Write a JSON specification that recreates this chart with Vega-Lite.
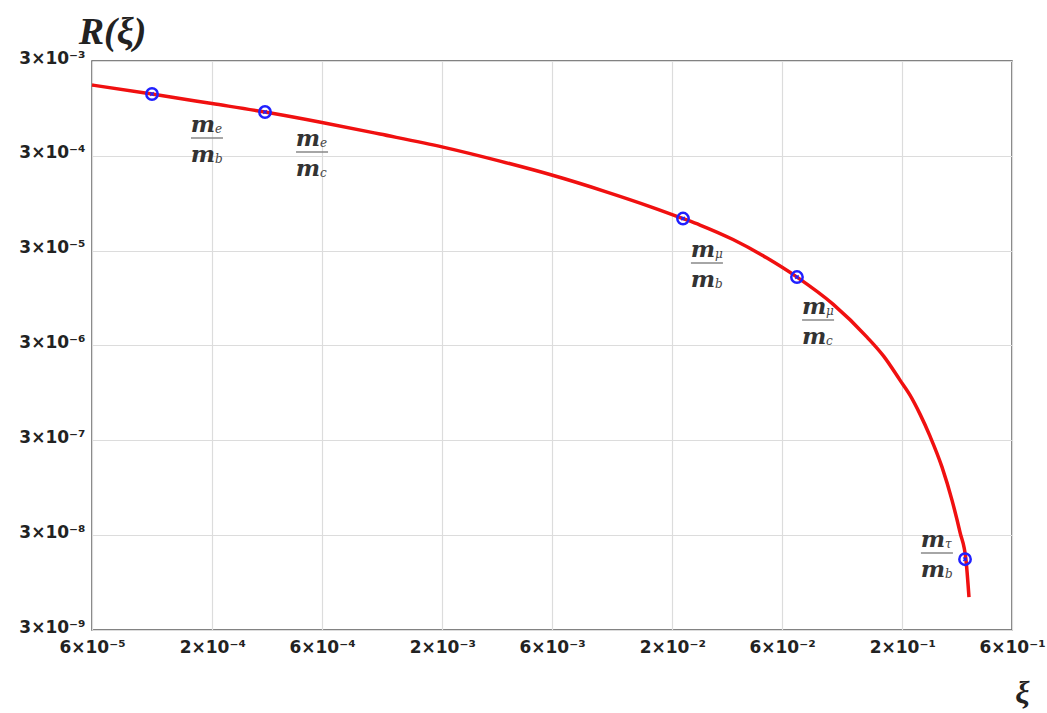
{
  "$schema": "https://vega.github.io/schema/vega-lite/v6.json",
  "width": 920,
  "height": 569,
  "autosize": "none",
  "padding": {"left": 92, "top": 61, "right": 35, "bottom": 83},
  "background": "white",
  "config": {
    "view": {"stroke": "#5a5a5a", "strokeWidth": 1.5},
    "axis": {
      "grid": true,
      "gridColor": "#dcdcdc",
      "gridWidth": 1.2,
      "domain": false,
      "ticks": false,
      "labelFont": "DejaVu Sans",
      "labelFontWeight": "bold",
      "labelFontSize": 17,
      "labelColor": "#222222"
    }
  },
  "datasets": {
    "curve": [
      {"xi": 6e-5, "R": 1.674e-3},
      {"xi": 1.094e-4, "R": 1.346e-3},
      {"xi": 1.995e-4, "R": 1.068e-3},
      {"xi": 3.391e-4, "R": 8.69e-4},
      {"xi": 6.0e-4, "R": 6.74e-4},
      {"xi": 1.072e-3, "R": 5.09e-4},
      {"xi": 2.015e-3, "R": 3.71e-4},
      {"xi": 3.564e-3, "R": 2.64e-4},
      {"xi": 5.88e-3, "R": 1.905e-4},
      {"xi": 1.040e-2, "R": 1.245e-4},
      {"xi": 1.601e-2, "R": 8.76e-5},
      {"xi": 2.227e-2, "R": 6.54e-5},
      {"xi": 2.640e-2, "R": 5.59e-5},
      {"xi": 3.674e-2, "R": 3.93e-5},
      {"xi": 5.164e-2, "R": 2.506e-5},
      {"xi": 6.97e-2, "R": 1.580e-5},
      {"xi": 9.996e-2, "R": 8.20e-6},
      {"xi": 0.1405, "R": 3.68e-6},
      {"xi": 0.1666, "R": 2.29e-6},
      {"xi": 0.1955, "R": 1.294e-6},
      {"xi": 0.2161, "R": 8.99e-7},
      {"xi": 0.2389, "R": 5.67e-7},
      {"xi": 0.2640, "R": 3.32e-7},
      {"xi": 0.2978, "R": 1.565e-7},
      {"xi": 0.3290, "R": 7.02e-8},
      {"xi": 0.3564, "R": 3.23e-8},
      {"xi": 0.3786, "R": 1.634e-8},
      {"xi": 0.3901, "R": 6.65e-9}
    ],
    "points": [
      {"xi": 1.094e-4, "R": 1.346e-3},
      {"xi": 3.391e-4, "R": 8.69e-4},
      {"xi": 2.227e-2, "R": 6.54e-5},
      {"xi": 6.97e-2, "R": 1.580e-5},
      {"xi": 0.3749, "R": 1.674e-8}
    ],
    "labels": [
      {"xi": 1.897e-4, "R": 4.62e-4, "num": "e", "den": "b"},
      {"xi": 5.43e-4, "R": 3.29e-4, "num": "e", "den": "c"},
      {"xi": 2.83e-2, "R": 2.22e-5, "num": "μ", "den": "b"},
      {"xi": 0.0861, "R": 5.56e-6, "num": "μ", "den": "c"},
      {"xi": 0.283, "R": 1.94e-8, "num": "τ", "den": "b"}
    ]
  },
  "encoding": {
    "x": {
      "field": "xi",
      "type": "quantitative",
      "scale": {"type": "log", "domain": [6e-5, 0.6], "nice": false},
      "axis": {
        "values": [6e-5, 2e-4, 6e-4, 2e-3, 6e-3, 2e-2, 6e-2, 2e-1, 6e-1],
        "labelExpr": "format(round(datum.value / pow(10, floor(log(datum.value) / LN10))), 'd') + '×10⁻' + substring('⁰¹²³⁴⁵⁶⁷⁸⁹', -floor(log(datum.value) / LN10), -floor(log(datum.value) / LN10) + 1)",
        "labelPadding": 9,
        "labelFlush": false,
        "labelOverlap": false,
        "title": "ξ",
        "titleFont": "Liberation Serif",
        "titleFontStyle": "italic",
        "titleFontWeight": "bold",
        "titleFontSize": 32,
        "titleColor": "#222222",
        "titleX": 930,
        "titleY": 62,
        "titleAlign": "center",
        "titleBaseline": "middle"
      }
    },
    "y": {
      "field": "R",
      "type": "quantitative",
      "scale": {"type": "log", "domain": [3e-9, 3e-3], "nice": false},
      "axis": {
        "values": [3e-9, 3e-8, 3e-7, 3e-6, 3e-5, 3e-4, 3e-3],
        "labelExpr": "format(round(datum.value / pow(10, floor(log(datum.value) / LN10))), 'd') + '×10⁻' + substring('⁰¹²³⁴⁵⁶⁷⁸⁹', -floor(log(datum.value) / LN10), -floor(log(datum.value) / LN10) + 1)",
        "labelPadding": 7,
        "labelFlush": false,
        "labelOverlap": false,
        "labelBaseline": "middle",
        "labelOffset": -3,
        "title": "R(ξ)",
        "titleFont": "Liberation Serif",
        "titleFontStyle": "italic",
        "titleFontWeight": "bold",
        "titleFontSize": 38,
        "titleColor": "#222222",
        "titleAngle": 0,
        "titleX": 20,
        "titleY": -29,
        "titleAlign": "center",
        "titleBaseline": "middle"
      }
    }
  },
  "layer": [
    {
      "data": {"name": "curve"},
      "mark": {"type": "line", "color": "#f01010", "strokeWidth": 3.5, "interpolate": "monotone", "clip": false}
    },
    {
      "data": {"name": "points"},
      "mark": {"type": "point", "shape": "circle", "filled": false, "color": "#2020ff", "strokeWidth": 2.5, "size": 130, "opacity": 1}
    },
    {
      "data": {"name": "points"},
      "mark": {"type": "point", "shape": "M-0.3,-0.3L0.3,0.3M-0.3,0.3L0.3,-0.3", "filled": false, "color": "#2020ff", "strokeWidth": 1.5, "size": 130, "opacity": 1}
    },
    {
      "data": {"name": "labels"},
      "mark": {"type": "tick", "orient": "horizontal", "size": 32, "thickness": 2, "color": "#808080"}
    },
    {
      "data": {"name": "labels"},
      "mark": {"type": "text", "text": "m", "font": "DejaVu Serif", "fontStyle": "italic", "fontWeight": "bold", "fontSize": 23, "color": "#333333", "align": "center", "baseline": "alphabetic", "dx": -4, "dy": -6}
    },
    {
      "data": {"name": "labels"},
      "mark": {"type": "text", "font": "DejaVu Serif", "fontStyle": "italic", "fontSize": 12, "color": "#444444", "align": "left", "baseline": "alphabetic", "dx": 8, "dy": -5},
      "encoding": {"text": {"field": "num"}}
    },
    {
      "data": {"name": "labels"},
      "mark": {"type": "text", "text": "m", "font": "DejaVu Serif", "fontStyle": "italic", "fontWeight": "bold", "fontSize": 23, "color": "#333333", "align": "center", "baseline": "alphabetic", "dx": -4, "dy": 24}
    },
    {
      "data": {"name": "labels"},
      "mark": {"type": "text", "font": "DejaVu Serif", "fontStyle": "italic", "fontSize": 12, "color": "#444444", "align": "left", "baseline": "alphabetic", "dx": 8, "dy": 25},
      "encoding": {"text": {"field": "den"}}
    }
  ]
}
